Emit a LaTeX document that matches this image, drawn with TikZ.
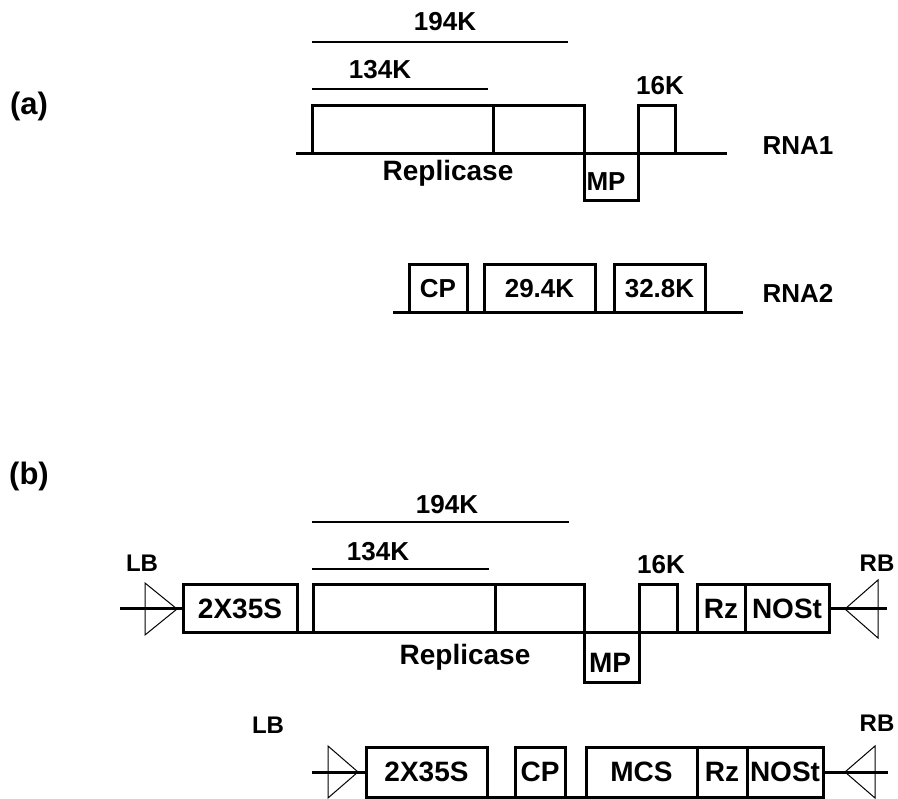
\documentclass[tikz,border=0pt]{standalone}
\usepackage{fontspec}
\setmainfont{Liberation Sans}
\usetikzlibrary{positioning}

\begin{document}
\begin{tikzpicture}[x=1pt, y=-1pt,
    lbl/.style={font=\fontsize{26}{30}\selectfont\bfseries, inner sep=0pt},
    part/.style={font=\fontsize{31}{34}\selectfont\bfseries, inner sep=0pt},
    big/.style={font=\fontsize{28}{32}\selectfont\bfseries, inner sep=0pt},
    seg/.style={draw, line width=3pt, inner sep=0pt, outer sep=0pt, anchor=north west,
      font=\fontsize{26}{30}\selectfont\bfseries},
    segb/.style={seg, font=\fontsize{28}{32}\selectfont\bfseries},
    orf/.style={line width=3pt},
    span/.style={line width=1.4pt},
    bord/.style={line width=1pt}]
  \useasboundingbox (0,0) rectangle (898,799);

  % (a) RNA1
  \node[part] (pa) at (29,106) {(a)};
  \node[lbl] (t194a) at (445,22) {194K};
  \coordinate (s194a) at (312,42);
  \coordinate (e194a) at (568,42);
  \draw[span] (s194a) -- (e194a);
  \node[lbl] (t134a) at (380,70) {134K};
  \coordinate (s134a) at (312,89);
  \coordinate (e134a) at (488,89);
  \draw[span] (s134a) -- (e134a);
  \coordinate (a1l) at (296,154);
  \coordinate (a1r) at (727,154);
  \draw[orf] (a1l) -- (a1r);
  \node[seg, minimum width=272, minimum height=48] (repa) at (312,106) {};
  \draw[orf] ([xshift=181pt]repa.north west) -- ([xshift=181pt]repa.south west);
  \node[seg, minimum width=54, minimum height=47] (mpa) at (584,154) {};
  \node[seg, minimum width=37, minimum height=48] (k16a) at (638,106) {};
  \node[lbl] (t16a) at (660,86) {16K};
  \node[big] (trepa) at (448,173) {Replicase};
  \node[lbl] (tmpa) at (606,182) {MP};
  \node[lbl] (rna1) at (798,146) {RNA1};

  % (a) RNA2
  \coordinate (a2l) at (393,313);
  \coordinate (a2r) at (743,313);
  \draw[orf] (a2l) -- (a2r);
  \node[seg, minimum width=58, minimum height=48] (cpa) at (409,265) {CP};
  \node[seg, minimum width=111, minimum height=48] (k294) at (484,265) {29.4K};
  \node[seg, minimum width=91, minimum height=48] (k328) at (614,265) {32.8K};
  \node[lbl] (rna2) at (798,293) {RNA2};

  % (b) first construct
  \node[part] (pb) at (29,476) {(b)};
  \node[lbl] (t194b) at (447,505) {194K};
  \coordinate (s194b) at (312,522);
  \coordinate (e194b) at (569,522);
  \draw[span] (s194b) -- (e194b);
  \node[lbl] (t134b) at (378,552) {134K};
  \coordinate (s134b) at (312,569);
  \coordinate (e134b) at (489,569);
  \draw[span] (s134b) -- (e134b);
  \node[lbl, font=\fontsize{24}{28}\selectfont\bfseries] (lbb1) at (142,563) {LB};
  \node[lbl, font=\fontsize{24}{28}\selectfont\bfseries] (rbb1) at (877,563) {RB};
  \node[lbl] (t16b) at (661,565) {16K};
  \node[segb, minimum width=114, minimum height=48] (p35b) at (183,585) {2X35S};
  \node[seg, minimum width=271, minimum height=48] (repb) at (313,585) {};
  \draw[orf] ([xshift=182pt]repb.north west) -- ([xshift=182pt]repb.south west);
  \node[seg, minimum width=55, minimum height=49] (mpb) at (584,633) {};
  \node[seg, minimum width=38, minimum height=48] (k16b) at (639,585) {};
  \node[segb, minimum width=48, minimum height=48] (rzb) at (697,585) {Rz};
  \node[segb, minimum width=84, minimum height=48] (nosb) at (745,585) {NOSt};
  \draw[orf] (p35b.south west) -- (nosb.south east);
  \node[big] (trepb) at (465,657) {Replicase};
  \node[big] (tmpb) at (610,663) {MP};
  \coordinate (lb1) at (120,609);
  \coordinate (rb1) at (887,609);
  \draw[orf] (lb1) -- (p35b.west);
  \draw[orf] (nosb.east) -- (rb1);
  \draw[bord] (145,583) -- (145,635) -- (177,609) -- cycle;
  \draw[bord] (878,580) -- (878,638) -- (845,609) -- cycle;

  % (b) second construct
  \node[lbl, font=\fontsize{24}{28}\selectfont\bfseries] (lbb2) at (268,725) {LB};
  \node[lbl, font=\fontsize{24}{28}\selectfont\bfseries] (rbb2) at (877,723) {RB};
  \node[segb, minimum width=121, minimum height=50] (p35c) at (366,747) {2X35S};
  \node[segb, minimum width=50, minimum height=50] (cpc) at (515,747) {CP};
  \node[segb, minimum width=111, minimum height=50] (mcsc) at (586,747) {MCS};
  \node[segb, minimum width=50, minimum height=50] (rzc) at (697,747) {Rz};
  \node[segb, minimum width=76, minimum height=50] (nosc) at (747,747) {NOSt};
  \draw[orf] (p35c.south west) -- (nosc.south east);
  \coordinate (lb2) at (312,772);
  \coordinate (rb2) at (888,772);
  \draw[orf] (lb2) -- (p35c.west);
  \draw[orf] (nosc.east) -- (rb2);
  \draw[bord] (328,746) -- (328,798) -- (358,772) -- cycle;
  \draw[bord] (875,746) -- (875,798) -- (845,772) -- cycle;
\end{tikzpicture}
\end{document}
